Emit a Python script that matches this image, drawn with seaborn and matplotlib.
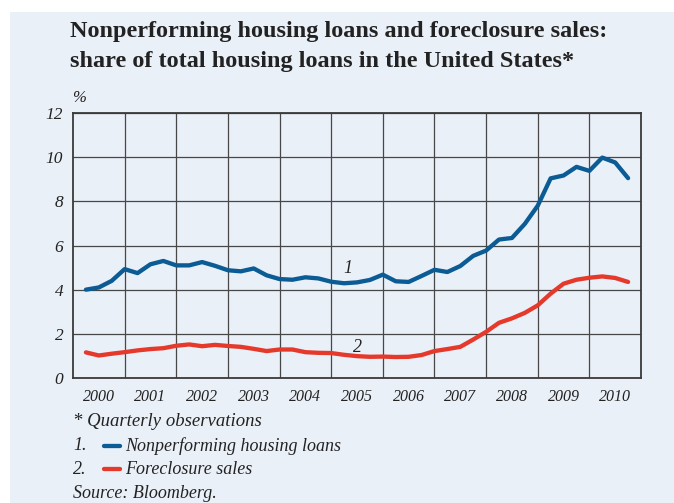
import numpy as np
import pandas as pd
import matplotlib
matplotlib.use("Agg")
import matplotlib.pyplot as plt
import seaborn as sns

# quarterly observations, 2000Q1 .. 2010Q3
years = [str(y) for y in range(2000, 2011)]
nonperforming = [
    4.00, 4.10, 4.40, 4.93,
    4.75, 5.15, 5.30, 5.10,
    5.10, 5.25, 5.08, 4.88,
    4.83, 4.96, 4.65, 4.48,
    4.45, 4.56, 4.51, 4.36,
    4.29, 4.33, 4.44, 4.68,
    4.38, 4.35, 4.62, 4.90,
    4.80, 5.07, 5.53, 5.77,
    6.27, 6.34, 6.98, 7.80,
    9.04, 9.17, 9.56, 9.38,
    9.98, 9.76, 9.05,
]
foreclosure = [
    1.16, 1.02, 1.10, 1.17,
    1.25, 1.31, 1.35, 1.46,
    1.52, 1.44, 1.50, 1.45,
    1.41, 1.32, 1.22, 1.29,
    1.29, 1.17, 1.14, 1.13,
    1.05, 0.99, 0.96, 0.97,
    0.95, 0.96, 1.04, 1.22,
    1.31, 1.41, 1.74, 2.09,
    2.50, 2.70, 2.95, 3.29,
    3.82, 4.27, 4.45, 4.54,
    4.60, 4.53, 4.35,
]
series_names = ["Nonperforming housing loans", "Foreclosure sales"]
y_ticks = [0, 2, 4, 6, 8, 10, 12]

BG = "#eaf0f8"
BLUE = "#0b5b94"
RED = "#e5392b"
GRID = "#474747"
TXT = "#222222"

# x position of each quarter end, in years since 2000
quarter_pos = [(i + 1) / 4 for i in range(len(nonperforming))]
df = pd.DataFrame({
    "t": quarter_pos * 2,
    "value": nonperforming + foreclosure,
    "series": [series_names[0]] * len(nonperforming) + [series_names[1]] * len(foreclosure),
})

sns.set_style("white")
plt.rcParams["font.family"] = ["Liberation Serif", "DejaVu Serif"]

fig = plt.figure(figsize=(6.74, 5.03), dpi=100)
fig.patch.set_facecolor("white")
# light blue panel behind everything
fig.patches.append(plt.Rectangle((10 / 674, 0), 1, 1 - 12 / 503, transform=fig.transFigure,
                                 facecolor=BG, edgecolor="none", zorder=-10))

ax = fig.add_axes([73 / 674, 1 - 378 / 503, (641 - 73) / 674, (378 - 113) / 503])
ax.set_facecolor(BG)

sns.lineplot(data=df, x="t", y="value", hue="series", palette=[BLUE, RED],
             linewidth=3.1, legend=False, ax=ax, solid_capstyle="round", zorder=5)

ax.set_xlim(0, 11)
ax.set_ylim(0, 12)

# horizontal grid + year boundaries
ax.set_yticks(y_ticks)
ax.set_yticklabels([str(v) for v in y_ticks], fontstyle="italic", fontsize=12.5, color=TXT)
ax.tick_params(axis="y", length=0, pad=7)
ax.grid(axis="y", color=GRID, linewidth=0.9)
for b in range(1, len(years)):
    ax.axvline(b, color=GRID, linewidth=0.9, zorder=1)

ax.set_xticks([k + 0.5 for k in range(len(years))])
ax.set_xticklabels(years, fontstyle="italic", fontsize=11.5, color=TXT)
ax.tick_params(axis="x", which="major", length=0, pad=8)
ax.set_xticks(quarter_pos, minor=True)
ax.tick_params(axis="x", which="minor", direction="in", length=5, width=0.9, color=GRID)
ax.set_xlabel("")
ax.set_ylabel("")

for s in ax.spines.values():
    s.set_color("#3a3a3a")
    s.set_linewidth(1.3)
    s.set_visible(True)

# series numbers on the chart
ax.text(5.33, 4.95, "1", fontstyle="italic", fontsize=13, color=TXT, ha="center", va="center")
ax.text(5.5, 1.4, "2", fontstyle="italic", fontsize=13, color=TXT, ha="center", va="center")

# title
fig.text(70 / 674, 1 - 32 / 503, "Nonperforming housing loans and foreclosure sales:",
         fontsize=17.5, fontweight="bold", color=TXT, va="center")
fig.text(70 / 674, 1 - 61 / 503, "share of total housing loans in the United States*",
         fontsize=17.5, fontweight="bold", color=TXT, va="center")
fig.text(72 / 674, 1 - 98 / 503, "%", fontstyle="italic", fontsize=12, color=TXT, va="center")

# footnotes
fig.text(73 / 674, 1 - 421 / 503, "* Quarterly observations", fontstyle="italic",
         fontsize=13.5, color=TXT, va="center")
legend_rows = [(446, "1.", BLUE, series_names[0]), (469, "2.", RED, series_names[1])]
for y, num, col, name in legend_rows:
    fy = 1 - y / 503
    fig.text(73 / 674, fy, num, fontstyle="italic", fontsize=13, color=TXT, va="center")
    fig.add_artist(plt.Line2D([104 / 674, 120 / 674], [fy, fy], color=col, linewidth=3.1,
                              solid_capstyle="round", transform=fig.transFigure))
    fig.text(125 / 674, fy, name, fontstyle="italic", fontsize=13, color=TXT, va="center")
fig.text(73 / 674, 1 - 493 / 503, "Source: Bloomberg.", fontstyle="italic",
         fontsize=13, color=TXT, va="center")

fig.savefig("out.png", dpi=100, facecolor=fig.get_facecolor())
